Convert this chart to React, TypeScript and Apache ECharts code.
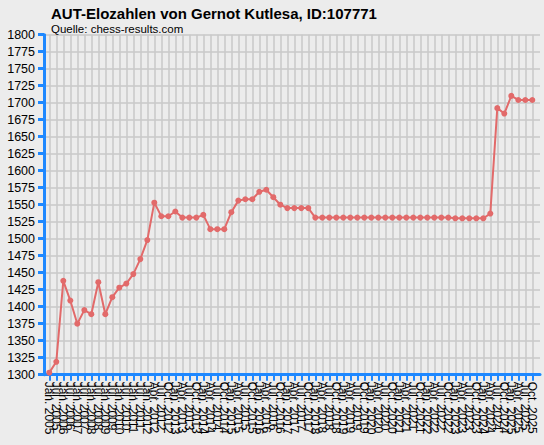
import React, { useEffect, useRef } from "react";
import * as echarts from "echarts";

const TITLE = "AUT-Elozahlen von Gernot Kutlesa, ID:107771";
const SUBTITLE = "Quelle: chess-results.com";

const periods = [
  "Jan. 2005", "Jul. 2005", "Jan. 2006", "Jul. 2006", "Jan. 2007", "Jul. 2007",
  "Jan. 2008", "Jul. 2008", "Jan. 2009", "Jul. 2009", "Jan. 2010", "Jul. 2010",
  "Jan. 2011", "Jul. 2011", "Jan. 2012", "Apr. 2012", "Jul. 2012", "Oct. 2012",
  "Jan. 2013", "Apr. 2013", "Jul. 2013", "Oct. 2013", "Jan. 2014", "Apr. 2014",
  "Jul. 2014", "Oct. 2014", "Jan. 2015", "Apr. 2015", "Jul. 2015", "Oct. 2015",
  "Jan. 2016", "Apr. 2016", "Jul. 2016", "Oct. 2016", "Jan. 2017", "Apr. 2017",
  "Jul. 2017", "Oct. 2017", "Jan. 2018", "Apr. 2018", "Jul. 2018", "Oct. 2018",
  "Jan. 2019", "Apr. 2019", "Jul. 2019", "Oct. 2019", "Jan. 2020", "Apr. 2020",
  "Jul. 2020", "Oct. 2020", "Jan. 2021", "Apr. 2021", "Jul. 2021", "Oct. 2021",
  "Jan. 2022", "Apr. 2022", "Jul. 2022", "Oct. 2022", "Jan. 2023", "Apr. 2023",
  "Jul. 2023", "Oct. 2023", "Jan. 2024", "Apr. 2024", "Jul. 2024", "Oct. 2024",
  "Jan. 2025", "Apr. 2025", "Jul. 2025", "Oct. 2025",
];

const elo = [
  1303, 1319, 1438, 1409, 1375, 1395, 1389, 1436, 1389, 1414,
  1428, 1434, 1448, 1470, 1498, 1553, 1533, 1533, 1540, 1531,
  1531, 1531, 1535, 1514, 1514, 1514, 1539, 1556, 1558, 1558,
  1569, 1572, 1561, 1550, 1545, 1545, 1545, 1545, 1531, 1531,
  1531, 1531, 1531, 1531, 1531, 1531, 1531, 1531, 1531, 1531,
  1531, 1531, 1531, 1531, 1531, 1531, 1531, 1531, 1530, 1530,
  1530, 1530, 1530, 1537, 1692, 1684, 1710, 1704, 1704, 1704,
];

const Y_MIN = 1300;
const Y_MAX = 1800;
const Y_STEP = 25;

const BLUE = "#1e88ff";
const GRID = "#c8c8c8";
const LINE = "#e26a6a";
const FONT = "Liberation Sans, Arial, sans-serif";

function EloChart() {
  const chartRef = useRef<HTMLDivElement>(null);

  // eslint-disable-next-line consistent-return
  useEffect(() => {
    if (chartRef.current) {
      const chart = echarts.init(chartRef.current, undefined, { renderer: "svg" });
      const gridTop = 34.7;
      const gridBottom = 445 - 374.7;
      const options: echarts.EChartsOption = {
        animation: false,
        backgroundColor: "#ececec",
        title: [
          {
            text: TITLE,
            left: 46,
            top: 1,
            textStyle: { fontFamily: FONT, fontSize: 15, fontWeight: "bold", color: "#000" },
          },
          {
            text: SUBTITLE,
            left: 46,
            top: 18,
            textStyle: { fontFamily: FONT, fontSize: 11.5, fontWeight: "normal", color: "#000" },
          },
        ],
        grid: [
          { left: 44, right: 4, top: gridTop, bottom: gridBottom },
          { left: 49.3, right: 544 - 532.3, top: gridTop, bottom: gridBottom },
        ],
        xAxis: [
          {
            gridIndex: 0,
            type: "value",
            min: 0,
            max: 1,
            axisLine: { show: true, lineStyle: { color: BLUE, width: 3 } },
            axisTick: { show: false },
            axisLabel: { show: false },
            splitLine: { show: false },
          },
          {
            gridIndex: 1,
            type: "category",
            data: periods,
            boundaryGap: false,
            axisLine: { show: false },
            axisTick: { show: true, length: 6, lineStyle: { color: BLUE, width: 2 } },
            axisLabel: {
              interval: 0,
              rotate: -90,
              fontFamily: FONT,
              fontSize: 12,
              color: "#000",
              margin: 7,
            },
            splitLine: { show: true, lineStyle: { color: GRID, width: 1.5 } },
          },
        ],
        yAxis: [
          {
            gridIndex: 0,
            type: "value",
            min: Y_MIN,
            max: Y_MAX,
            interval: Y_STEP,
            axisLine: { show: true, lineStyle: { color: BLUE, width: 3 } },
            axisTick: { show: true, length: 6, lineStyle: { color: BLUE, width: 3 } },
            axisLabel: {
              fontFamily: FONT,
              fontSize: 12.5,
              color: "#000",
              margin: 9,
              formatter: (v: number) => String(v),
            },
            splitLine: { show: true, lineStyle: { color: GRID, width: 1.5 } },
          },
          {
            gridIndex: 1,
            type: "value",
            min: Y_MIN,
            max: Y_MAX,
            interval: Y_STEP,
            show: false,
            splitLine: { show: false },
          },
        ],
        series: [
          {
            type: "line",
            xAxisIndex: 1,
            yAxisIndex: 1,
            data: elo,
            symbol: "circle",
            symbolSize: 6,
            lineStyle: { color: LINE, width: 2 },
            itemStyle: { color: LINE },
            z: 5,
          },
        ],
      };
      chart.setOption(options);
      return () => {
        chart.dispose();
      };
    }
  }, []);

  return (
    <div
      ref={chartRef}
      style={{ position: "absolute", left: 0, top: 0, width: "544px", height: "445px" }}
    />
  );
}

export default function App() {
  return <EloChart />;
}
